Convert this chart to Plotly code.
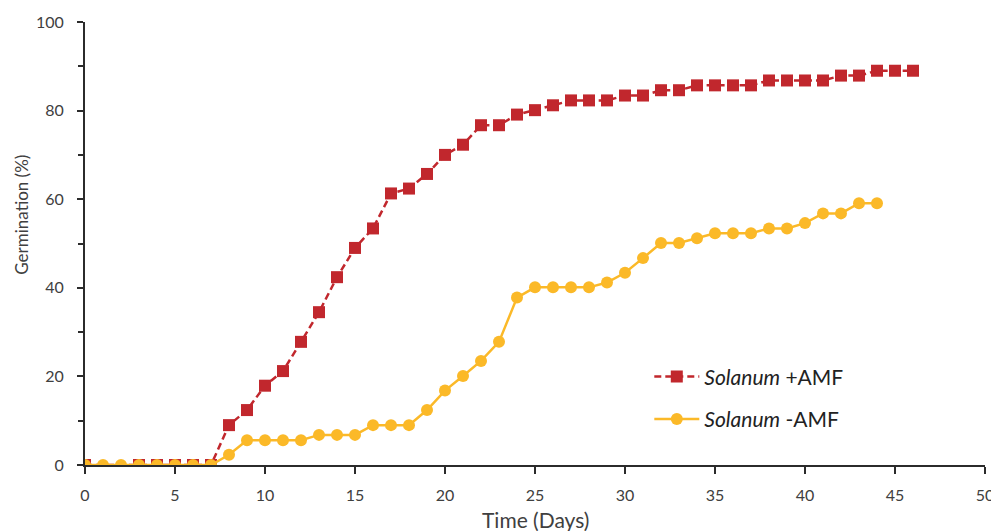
import plotly.graph_objects as go

days_plus = [0, 3, 4, 5, 6, 7, 8, 9, 10, 11, 12, 13, 14, 15, 16, 17, 18, 19, 20, 21, 22, 23, 24, 25,
             26, 27, 28, 29, 30, 31, 32, 33, 34, 35, 36, 37, 38, 39, 40, 41, 42, 43, 44, 45, 46]
germ_plus = [0, 0, 0, 0, 0, 0, 9.0, 12.4, 17.9, 21.2, 27.8, 34.5, 42.4, 49.0, 53.4, 61.3, 62.4, 65.7,
             70.0, 72.3, 76.7, 76.7, 79.1, 80.1, 81.2, 82.3, 82.3, 82.3, 83.4, 83.4, 84.6, 84.6, 85.7,
             85.7, 85.7, 85.7, 86.8, 86.8, 86.8, 86.8, 87.9, 87.9, 89.0, 89.0, 89.0]

days_minus = list(range(0, 45))
germ_minus = [0, 0, 0, 0, 0, 0, 0, 0, 2.3, 5.6, 5.6, 5.6, 5.6, 6.8, 6.8, 6.8, 9.0, 9.0, 9.0, 12.4,
              16.8, 20.1, 23.5, 27.8, 37.8, 40.1, 40.1, 40.1, 40.1, 41.2, 43.4, 46.7, 50.1, 50.1,
              51.2, 52.3, 52.3, 52.3, 53.4, 53.4, 54.6, 56.8, 56.8, 59.1, 59.1]

x_ticks = [0, 5, 10, 15, 20, 25, 30, 35, 40, 45, 50]
y_ticks = [0, 20, 40, 60, 80, 100]
x_title = "Time (Days)"
y_title = "Germination (%)"

RED = "#C1272D"
YEL = "#FBB928"
AX = "#2b2b2b"
TXT = "#404040"

fig = go.Figure()
fig.add_trace(go.Scatter(
    x=days_plus, y=germ_plus, mode="lines+markers",
    name="<i>Solanum</i> +AMF", legendgroup="a",
    line=dict(color=RED, width=2.5, dash="7px,4px"),
    marker=dict(symbol="square", size=12, color=RED),
))
fig.add_trace(go.Scatter(
    x=days_minus, y=germ_minus, mode="lines+markers",
    name="<i>Solanum</i> -AMF", legendgroup="b",
    line=dict(color=YEL, width=2.5),
    marker=dict(symbol="circle", size=12, color=YEL),
))

# page body has an 8px margin; size the figure so it fits the 999x531 window
fig.update_layout(
    width=991, height=523,
    margin=dict(l=77, r=14, t=14, b=66),
    paper_bgcolor="white", plot_bgcolor="white",
    font=dict(family="Lato, Open Sans, sans-serif", size=16, color=TXT),
    legend=dict(
        x=0.627, y=0.245, xanchor="left", yanchor="top",
        bgcolor="rgba(0,0,0,0)", font=dict(size=21, color="#222222"),
        traceorder="grouped", tracegroupgap=12, itemwidth=45,
    ),
    xaxis=dict(
        range=[0, 50], tickvals=x_ticks, ticktext=[str(v) for v in x_ticks],
        showgrid=False, zeroline=False, showline=True, linecolor=AX, linewidth=2,
        ticks="outside", tickcolor=AX, ticklen=7, tickwidth=2, ticklabelstandoff=8,
        tickfont=dict(size=16, color=TXT), automargin=False,
    ),
    yaxis=dict(
        range=[0, 100], tickvals=y_ticks, ticktext=[str(v) for v in y_ticks],
        showgrid=False, zeroline=False, showline=True, linecolor=AX, linewidth=2,
        ticks="outside", tickcolor=AX, ticklen=6, tickwidth=2, ticklabelstandoff=10,
        minor=dict(dtick=10, ticks="outside", ticklen=5, tickcolor=AX, tickwidth=2),
        tickfont=dict(size=16, color=TXT), automargin=False,
    ),
    annotations=[
        dict(text=x_title, xref="paper", yref="paper", x=0.5, y=-0.122,
             xanchor="center", yanchor="middle", showarrow=False,
             font=dict(size=21, color=TXT)),
        dict(text=y_title, xref="paper", yref="paper", x=-0.07, y=0.565,
             xanchor="center", yanchor="middle", showarrow=False, textangle=-90,
             font=dict(size=17, color=TXT)),
    ],
)

fig.write_html("out.html")
